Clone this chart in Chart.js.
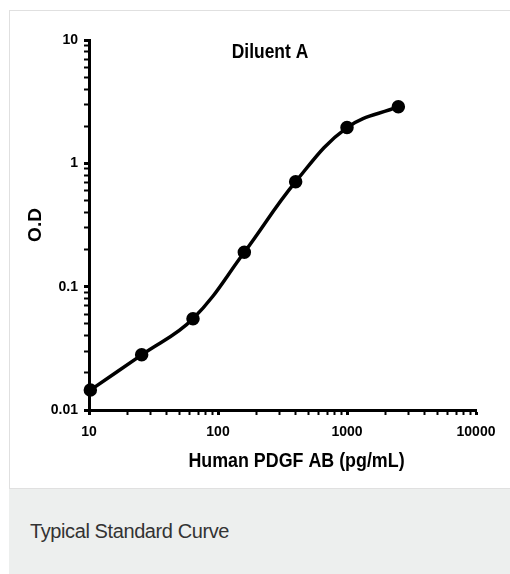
<!DOCTYPE html>
<html>
<head>
<meta charset="utf-8">
<script src="https://cdn.jsdelivr.net/npm/chart.js@4"></script>
<style>
  html, body { margin: 0; padding: 0; background: #fff; }
  body { width: 510px; height: 574px; position: relative; overflow: hidden; }
  #panel { position: absolute; left: 9px; top: 10px; width: 501px; height: 477px;
           border-top: 1px solid #e0e0e0; border-left: 1px solid #e0e0e0; border-bottom: 1px solid #e0e0e0; background: #fff; }
  #caption { position: absolute; left: 9px; top: 489px; width: 501px; height: 85px; background: #edefee; }
  #caption span { position: absolute; left: 21px; top: 32px; font-family: "Liberation Sans", Arial, sans-serif;
                  font-size: 20px; line-height: 20px; color: #333; letter-spacing: -0.4px; }
  #wrap { position: absolute; left: 0; top: 0; width: 510px; height: 574px; }
</style>
</head>
<body>
<div id="panel"></div>
<div id="caption"><span>Typical Standard Curve</span></div>
<div id="wrap"><canvas id="myChart" width="510" height="574"></canvas></div>
<script>
// standard curve (pg/mL vs O.D)
var concentrations = [10.24, 25.6, 64, 160, 400, 1000, 2500];
var odValues = [0.0145, 0.028, 0.055, 0.19, 0.71, 1.95, 2.88];

// axis labels
var xMajorTicks = [10, 100, 1000, 10000];
var yMajorTicks = [0.01, 0.1, 1, 10];

var chartTitle = "Diluent A";
var xTitle = "Human PDGF AB (pg/mL)";
var yTitle = "O.D";

// 1..9 x 10^n inside each decade
function logTicks(majors) {
    var out = [];
    for (var i = 0; i < majors.length - 1; i++) {
        for (var k = 1; k < 10; k++) out.push({ value: +(majors[i] * k).toPrecision(3), major: k === 1 });
    }
    out.push({ value: majors[majors.length - 1], major: true });
    return out;
}

function isMajor(list, v) {
    return list.some(function (m) { return Math.abs(m - v) / m < 1e-6; });
}

var sans = "'Liberation Sans', Arial, sans-serif";

// condensed text (no narrow font installed, so squeeze horizontally)
function narrowText(ctx, text, x, y, size, squeeze) {
    ctx.save();
    ctx.translate(x, y);
    ctx.scale(squeeze, 1);
    ctx.font = "bold " + size + "px " + sans;
    ctx.fillText(text, 0, 0);
    ctx.restore();
}

var titlesPlugin = {
    id: 'titles',
    afterDraw: function (chart) {
        var ctx = chart.ctx, a = chart.chartArea;
        ctx.save();
        ctx.fillStyle = '#000';
        ctx.textAlign = 'center';
        ctx.textBaseline = 'middle';
        narrowText(ctx, chartTitle, 270, a.top + 12, 21, 0.83);
        narrowText(ctx, xTitle, (a.left + a.right) / 2 + 14, 461, 21, 0.85);
        ctx.restore();
    }
};

var ctx = document.getElementById('myChart').getContext('2d');
new Chart(ctx, {
    type: 'line',
    data: {
        datasets: [{
            data: concentrations.map(function (c, i) { return { x: c, y: odValues[i] }; }),
            borderColor: '#000',
            backgroundColor: '#000',
            borderWidth: 3.5,
            tension: 0.4,
            pointRadius: 5,
            pointHoverRadius: 5,
            clip: false
        }]
    },
    options: {
        responsive: false,
        animation: false,
        devicePixelRatio: 1,
        layout: { padding: { left: 10, right: 34, top: 40, bottom: 86 } },
        plugins: { legend: { display: false }, tooltip: { enabled: false } },
        scales: {
            x: {
                type: 'logarithmic',
                min: 10, max: 10000,
                afterFit: function (s) { s.height = 78; },
                afterBuildTicks: function (s) { s.ticks = logTicks(xMajorTicks); },
                border: { color: '#000', width: 3 },
                grid: {
                    drawOnChartArea: false, drawTicks: true, tickLength: 5, tickColor: '#000',
                    tickWidth: function (c) { return c.tick && c.tick.major ? 3 : 2; }
                },
                ticks: {
                    autoSkip: false, maxRotation: 0, padding: 9, color: '#000',
                    font: { family: sans, size: 14, weight: 'bold' },
                    callback: function (v) { return isMajor(xMajorTicks, v) ? String(v) : ''; }
                }
            },
            y: {
                type: 'logarithmic',
                min: 0.01, max: 10,
                afterFit: function (s) { s.width = 79; },
                afterBuildTicks: function (s) { s.ticks = logTicks(yMajorTicks); },
                border: { color: '#000', width: 3 },
                grid: {
                    drawOnChartArea: false, drawTicks: true, tickLength: 5, tickColor: '#000',
                    tickWidth: function (c) { return c.tick && c.tick.major ? 3 : 2; }
                },
                title: {
                    display: true, text: yTitle, color: '#000', padding: { top: 14, bottom: 0 },
                    font: { family: sans, size: 19, weight: 'bold' }
                },
                ticks: {
                    autoSkip: false, padding: 6, color: '#000',
                    font: { family: sans, size: 14, weight: 'bold' },
                    callback: function (v) { return isMajor(yMajorTicks, v) ? String(v) : ''; }
                }
            }
        }
    },
    plugins: [titlesPlugin]
});
</script>
</body>
</html>
